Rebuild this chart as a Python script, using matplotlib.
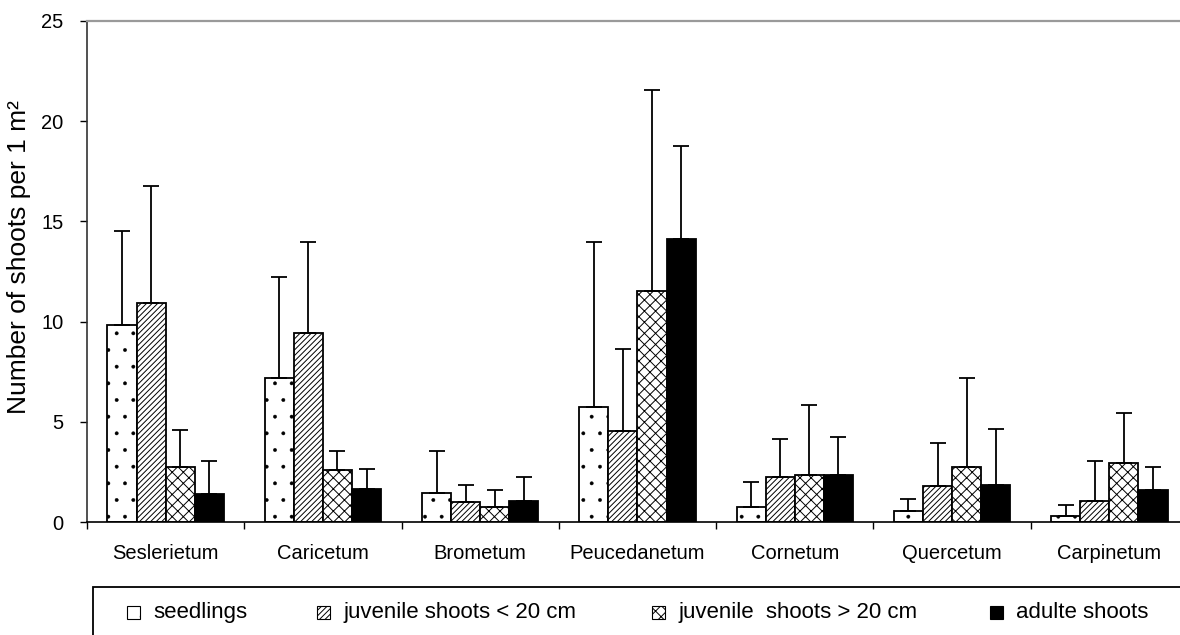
import numpy as np
import matplotlib.pyplot as plt
from matplotlib.patches import Rectangle

plt.rcParams['font.family'] = ['Liberation Sans', 'DejaVu Sans']

sites = ['Seslerietum', 'Caricetum', 'Brometum', 'Peucedanetum', 'Cornetum', 'Quercetum', 'Carpinetum']
groups = ['seedlings', 'juvenile shoots < 20 cm', 'juvenile  shoots > 20 cm', 'adulte shoots']

# mean values and tops of the error bars (mean + SD)
seedlings = [9.85, 7.2, 1.45, 5.75, 0.75, 0.55, 0.3]
seedlings_top = [14.5, 12.25, 3.55, 13.95, 2.0, 1.15, 0.85]
juv_small = [10.95, 9.45, 1.0, 4.55, 2.25, 1.8, 1.05]
juv_small_top = [16.75, 13.95, 1.85, 8.65, 4.15, 3.95, 3.05]
juv_big = [2.75, 2.6, 0.75, 11.55, 2.35, 2.75, 2.95]
juv_big_top = [4.6, 3.55, 1.6, 21.55, 5.85, 7.2, 5.45]
adult = [1.4, 1.65, 1.05, 14.1, 2.35, 1.85, 1.6]
adult_top = [3.05, 2.65, 2.25, 18.75, 4.25, 4.65, 2.75]

means = [seedlings, juv_small, juv_big, adult]
tops = [seedlings_top, juv_small_top, juv_big_top, adult_top]
fills = ['white', 'white', 'white', 'black']
hatches = ['.', '//////', 'xxx', None]
hatch_lw = [0.3, 0.7, 0.7, 0.7]

fig = plt.figure(figsize=(11.8, 6.35), dpi=100)
ax = fig.add_axes([87/1180, 113/635, 1101/1180, 501/635])

x = np.arange(len(sites))
w = 0.185
for k in range(4):
    plt.rcParams['hatch.linewidth'] = hatch_lw[k]
    m = np.array(means[k])
    t = np.array(tops[k])
    pos = x + (k - 1.5) * w
    ax.bar(pos, m, w, color=fills[k], edgecolor='black', linewidth=1.3, hatch=hatches[k], zorder=2)
    ax.errorbar(pos, m, yerr=[np.zeros(len(m)), t - m], fmt='none', ecolor='black',
                elinewidth=1.3, capsize=5.8, capthick=1.3, zorder=3)
plt.rcParams['hatch.linewidth'] = 0.7

ax.set_xlim(-0.5, 6.5)
ax.set_ylim(0, 25)
ax.set_yticks([0, 5, 10, 15, 20, 25])
ax.set_xticks(x)
ax.set_xticklabels(sites)
ax.set_xticks(np.arange(-0.5, 7, 1), minor=True)
ax.tick_params(axis='x', which='major', length=0, pad=16, labelsize=14.5)
ax.tick_params(axis='x', which='minor', length=5, width=1, direction='out')
ax.tick_params(axis='y', length=5, width=1, pad=12, labelsize=14.5, direction='out')
ax.set_ylabel('Number of shoots per 1 m²', fontsize=19)
ax.yaxis.set_label_coords(-0.051, 0.529)

ax.spines['top'].set_color('#9a9a9a')
ax.spines['top'].set_linewidth(1.6)
ax.spines['left'].set_color('#333333')
ax.spines['left'].set_linewidth(1.2)
ax.spines['bottom'].set_linewidth(1.2)
ax.spines['right'].set_visible(False)

# legend box, running off the right and bottom edge as in the original
fig.patches.append(Rectangle((93/1180, -0.05), 1.2, 1 - 587/635 + 0.05, transform=fig.transFigure,
                             facecolor='none', edgecolor='black', linewidth=1.3))

key_x = [127, 317, 652, 990]
for k in range(4):
    plt.rcParams['hatch.linewidth'] = hatch_lw[k]
    fig.patches.append(Rectangle((key_x[k]/1180, 1 - 619/635), 13/1180, 13/635, transform=fig.transFigure,
                                 facecolor=fills[k], edgecolor='black', linewidth=0.8, hatch=hatches[k]))
    fig.text((key_x[k] + 26)/1180, 1 - 618/635, groups[k], fontsize=16, ha='left', va='baseline')

fig.savefig('out.png', dpi=100)
